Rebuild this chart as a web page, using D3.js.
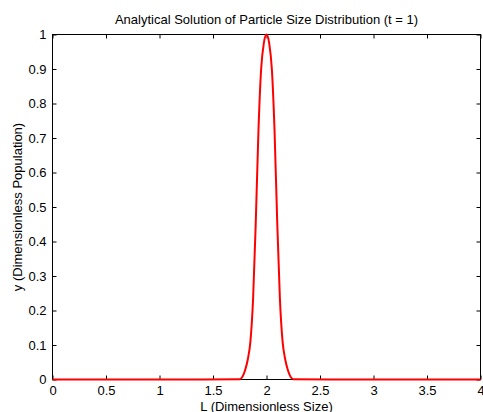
<!DOCTYPE html>
<html>
<head>
<meta charset="utf-8">
<script src="https://cdn.jsdelivr.net/npm/d3@7"></script>
<style>
  body { margin: 0; background: #fff; }
  text { font-family: "Liberation Sans", Arial, sans-serif; font-size: 13px; fill: #000; }
</style>
</head>
<body>
<script>
        var w = 483;
        var h = 412;

        // sizes L and population y
        var sizeL = [0, 1.4, 1.75, 1.775, 1.8, 1.825, 1.85, 1.875, 1.9, 1.925, 1.95, 1.975, 2,
                     2.025, 2.05, 2.075, 2.1, 2.125, 2.15, 2.175, 2.2, 2.225, 2.25, 2.6, 4];
        var popY = [0, 0, 0.001, 0.008, 0.027, 0.058, 0.111, 0.236, 0.459, 0.723, 0.9, 0.975, 1,
                    0.975, 0.9, 0.723, 0.459, 0.236, 0.111, 0.058, 0.027, 0.008, 0.001, 0, 0];

        var xTicks = [0, 0.5, 1, 1.5, 2, 2.5, 3, 3.5, 4];
        var yTicks = [0, 0.1, 0.2, 0.3, 0.4, 0.5, 0.6, 0.7, 0.8, 0.9, 1];

        // plot box (note: "top" is reserved on window, so prefix these)
        var pLeft = 52.5, pRight = 480.5, pTop = 34.5, pBottom = 379.5;

        var xScale = d3.scaleLinear().domain([0, 4]).range([pLeft, pRight]);
        var yScale = d3.scaleLinear().domain([0, 1]).range([pBottom, pTop]);

        var svg = d3.select("body").append("svg").attr("width", w).attr("height", h);

        //box
        svg.append("rect")
            .attr("x", pLeft).attr("y", pTop)
            .attr("width", pRight - pLeft).attr("height", pBottom - pTop)
            .attr("fill", "none").attr("stroke", "#000").attr("stroke-width", 1);

        //axes with inward ticks, labels on bottom and left only
        var xAxis = d3.axisBottom(xScale).tickValues(xTicks).tickSizeInner(-4).tickSizeOuter(0)
            .tickPadding(6.5).tickFormat(d3.format("~g"));
        var gx = svg.append("g").attr("transform", "translate(0," + pBottom + ")").call(xAxis);

        var yAxis = d3.axisLeft(yScale).tickValues(yTicks).tickSizeInner(-4).tickSizeOuter(0)
            .tickPadding(6).tickFormat(d3.format("~g"));
        var gy = svg.append("g").attr("transform", "translate(" + pLeft + ",0)").call(yAxis);

        var gxt = svg.append("g").attr("transform", "translate(0," + pTop + ")")
            .call(d3.axisTop(xScale).tickValues(xTicks).tickSizeInner(-4).tickSizeOuter(0).tickFormat(""));
        var gyr = svg.append("g").attr("transform", "translate(" + pRight + ",0)")
            .call(d3.axisRight(yScale).tickValues(yTicks).tickSizeInner(-4).tickSizeOuter(0).tickFormat(""));

        [gx, gy, gxt, gyr].forEach(function(g) {
            g.select(".domain").remove();
            g.selectAll(".tick line").attr("stroke", "#000");
            g.selectAll(".tick text").attr("font-size", "13px")
                .attr("font-family", "Liberation Sans, Arial, sans-serif").attr("fill", "#000");
        });

        //the curve
        var line = d3.line()
            .x((d, i) => xScale(sizeL[i]))
            .y((d) => yScale(d))
            .curve(d3.curveMonotoneX);

        svg.append("path")
            .datum(popY)
            .attr("d", line)
            .attr("fill", "none")
            .attr("stroke", "#ff0000")
            .attr("stroke-width", 2)
            .attr("stroke-linejoin", "round");

        //title and axis labels
        svg.append("text")
            .attr("x", (pLeft + pRight) / 2).attr("y", 24)
            .attr("text-anchor", "middle")
            .text("Analytical Solution of Particle Size Distribution (t = 1)");

        svg.append("text")
            .attr("x", (pLeft + pRight) / 2).attr("y", 411)
            .attr("text-anchor", "middle")
            .text("L (Dimensionless Size)");

        svg.append("text")
            .attr("transform", "translate(22," + (pTop + pBottom) / 2 + ") rotate(-90)")
            .attr("text-anchor", "middle")
            .text("y (Dimensionless Population)");
</script>
</body>
</html>
